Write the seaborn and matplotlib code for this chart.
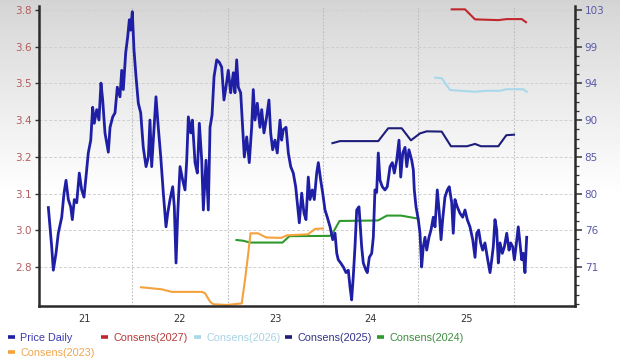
import numpy as np
import pandas as pd
import matplotlib
matplotlib.use("Agg")
import matplotlib.pyplot as plt
from matplotlib.ticker import AutoMinorLocator
import seaborn as sns

# ---------------- data (decimal years) ----------------
price_year = [2021.124, 2021.159, 2021.176, 2021.204, 2021.228, 2021.264, 2021.288, 2021.309, 2021.333, 2021.358,
              2021.375, 2021.396, 2021.421, 2021.448, 2021.473, 2021.497, 2021.518, 2021.542, 2021.568, 2021.588,
              2021.605, 2021.630, 2021.654, 2021.675, 2021.693, 2021.717, 2021.752, 2021.770, 2021.798, 2021.822,
              2021.846, 2021.874, 2021.892, 2021.909, 2021.934, 2021.955, 2021.972, 2021.986, 2022.003, 2022.021,
              2022.042, 2022.066, 2022.091, 2022.118, 2022.147, 2022.171, 2022.188, 2022.206, 2022.223, 2022.251,
              2022.275, 2022.301, 2022.328, 2022.356, 2022.374, 2022.398, 2022.426, 2022.443, 2022.461, 2022.479,
              2022.503, 2022.531, 2022.555, 2022.573, 2022.590, 2022.615, 2022.632, 2022.660, 2022.684, 2022.705,
              2022.730, 2022.747, 2022.775, 2022.799, 2022.817, 2022.838, 2022.859, 2022.887, 2022.914, 2022.939,
              2022.963, 2022.984, 2023.008, 2023.033, 2023.061, 2023.078, 2023.096, 2023.113, 2023.138, 2023.159,
              2023.176, 2023.201, 2023.228, 2023.253, 2023.270, 2023.288, 2023.312, 2023.340, 2023.358, 2023.382,
              2023.410, 2023.434, 2023.452, 2023.473, 2023.497, 2023.521, 2023.550, 2023.567, 2023.584, 2023.613,
              2023.637, 2023.662, 2023.689, 2023.714, 2023.735, 2023.752, 2023.777, 2023.801, 2023.822, 2023.846,
              2023.864, 2023.888, 2023.909, 2023.934, 2023.951, 2023.976, 2023.997, 2024.021, 2024.045, 2024.074,
              2024.102, 2024.126, 2024.144, 2024.160, 2024.185, 2024.213, 2024.241, 2024.265, 2024.283, 2024.300,
              2024.317, 2024.335, 2024.353, 2024.377, 2024.405, 2024.422, 2024.450, 2024.464, 2024.485, 2024.510,
              2024.527, 2024.544, 2024.562, 2024.579, 2024.597, 2024.621, 2024.649, 2024.673, 2024.702, 2024.726,
              2024.747, 2024.772, 2024.796, 2024.814, 2024.835, 2024.859, 2024.877, 2024.900, 2024.929, 2024.946,
              2024.956, 2024.974, 2024.998, 2025.016, 2025.033, 2025.050, 2025.068, 2025.086, 2025.110, 2025.131,
              2025.155, 2025.173, 2025.197, 2025.218, 2025.236, 2025.253, 2025.277, 2025.302, 2025.322, 2025.348,
              2025.364, 2025.382, 2025.406, 2025.434, 2025.463, 2025.487, 2025.511, 2025.539, 2025.568, 2025.592,
              2025.610, 2025.630, 2025.651, 2025.672, 2025.696, 2025.725, 2025.749, 2025.767, 2025.783, 2025.801,
              2025.819, 2025.836, 2025.854, 2025.878, 2025.899, 2025.924, 2025.948, 2025.966, 2025.987, 2026.004,
              2026.021, 2026.045, 2026.063, 2026.081, 2026.098, 2026.115, 2026.133]
price_value = [78.4, 73.5, 70.6, 72.7, 75.2, 77.2, 80.2, 81.8, 79.4, 78.5,
               76.9, 79.4, 79.0, 82.7, 80.6, 79.7, 82.2, 85.2, 86.8, 90.9,
               88.9, 90.6, 89.3, 93.9, 91.8, 87.7, 85.3, 88.4, 89.7, 90.2,
               93.4, 92.2, 95.5, 93.1, 97.7, 99.7, 101.8, 100.5, 102.8, 98.0,
               94.7, 91.4, 90.2, 85.9, 83.5, 84.7, 89.3, 83.5, 86.8, 92.2,
               88.4, 84.7, 80.2, 76.0, 77.7, 79.4, 81.0, 78.5, 71.5, 77.7,
               83.5, 81.8, 80.6, 84.3, 89.7, 87.7, 89.3, 84.0, 82.7, 88.9,
               84.3, 78.1, 84.3, 78.1, 88.4, 89.9, 94.7, 96.8, 96.5, 95.9,
               91.8, 93.4, 95.5, 92.7, 95.2, 92.7, 96.8, 93.4, 92.7, 88.4,
               84.7, 87.2, 84.0, 88.4, 93.1, 89.3, 91.4, 88.4, 90.6, 87.7,
               89.7, 91.8, 87.7, 85.6, 86.8, 85.2, 89.3, 86.8, 88.1, 88.4,
               85.2, 83.5, 82.7, 81.0, 78.5, 76.5, 80.2, 77.7, 76.9, 82.2,
               79.4, 80.6, 79.4, 82.7, 84.0, 81.8, 80.2, 78.1, 77.2, 76.0,
               74.4, 75.2, 72.7, 71.9, 71.5, 71.0, 70.3, 70.6, 68.5, 66.9,
               69.8, 73.5, 78.1, 78.5, 73.5, 71.5, 70.6, 70.3, 72.2, 72.7,
               74.7, 80.6, 80.3, 85.2, 81.8, 81.0, 80.6, 81.0, 83.5, 84.0,
               82.7, 84.3, 86.8, 82.2, 85.2, 85.9, 83.5, 85.6, 84.3, 83.1,
               80.6, 78.5, 76.9, 75.2, 71.0, 73.5, 74.7, 73.1, 74.7, 75.6,
               77.2, 76.0, 80.6, 77.7, 74.4, 76.9, 79.7, 80.6, 81.0, 79.0,
               75.2, 79.4, 78.5, 77.7, 77.2, 78.1, 76.9, 76.0, 74.4, 72.2,
               75.2, 75.6, 74.0, 73.1, 74.0, 71.9, 70.3, 71.9, 73.5, 76.9,
               75.6, 71.5, 74.0, 72.7, 73.5, 75.2, 73.1, 74.0, 73.5, 71.9,
               73.5, 76.0, 74.0, 71.9, 72.7, 70.3, 74.7]

c2027_year = [2025.348, 2025.487, 2025.592, 2025.836, 2025.923, 2026.081, 2026.126]
c2027_eps = [3.803, 3.803, 3.764, 3.761, 3.765, 3.765, 3.753]

c2026_year = [2025.173, 2025.243, 2025.330, 2025.435, 2025.592, 2025.717, 2025.853, 2025.923, 2026.097, 2026.133]
c2026_eps = [3.537, 3.535, 3.489, 3.486, 3.482, 3.486, 3.486, 3.492, 3.492, 3.482]

c2025_year = [2024.099, 2024.178, 2024.579, 2024.683, 2024.824, 2024.921, 2025.016, 2025.086, 2025.243,
              2025.340, 2025.508, 2025.592, 2025.654, 2025.836, 2025.920, 2026.000]
c2025_eps = [3.282, 3.290, 3.290, 3.340, 3.340, 3.293, 3.320, 3.328, 3.327,
             3.270, 3.270, 3.279, 3.270, 3.270, 3.313, 3.315]

c2024_year = [2023.094, 2023.166, 2023.236, 2023.576, 2023.649, 2024.073, 2024.105, 2024.173, 2024.576,
              2024.670, 2024.817, 2024.998]
c2024_eps = [2.905, 2.902, 2.895, 2.895, 2.920, 2.921, 2.934, 2.979, 2.981, 3.000, 3.000, 2.988]

c2023_year = [2022.094, 2022.311, 2022.416, 2022.730, 2022.764, 2022.817, 2022.851, 2022.992, 2023.149,
              2023.183, 2023.218, 2023.241, 2023.319, 2023.403, 2023.560, 2023.623, 2023.843, 2023.916, 2023.997]
c2023_eps = [2.721, 2.713, 2.703, 2.703, 2.698, 2.665, 2.655, 2.652, 2.658,
             2.749, 2.855, 2.931, 2.931, 2.915, 2.913, 2.923, 2.927, 2.948, 2.950]

year_labels = ["21", "22", "23", "24", "25"]
year_label_pos = [2021.5, 2022.5, 2023.5, 2024.5, 2025.5]
year_bounds = [2022, 2023, 2024, 2025, 2026]
left_labels = ["2.8", "3.0", "3.1", "3.2", "3.4", "3.5", "3.6", "3.8"]
right_labels = ["71", "76", "80", "85", "90", "94", "99", "103"]

series = [
    ("Price Daily", price_year, price_value, "#1f1fa6", "#3a3ab4", "right"),
    ("Consens(2027)", c2027_year, c2027_eps, "#c0272d", "#b83a3a", "left"),
    ("Consens(2026)", c2026_year, c2026_eps, "#a8d8ea", "#a8d4e4", "left"),
    ("Consens(2025)", c2025_year, c2025_eps, "#1e1e7a", "#33338a", "left"),
    ("Consens(2024)", c2024_year, c2024_eps, "#2e9a2e", "#3d8f3d", "left"),
    ("Consens(2023)", c2023_year, c2023_eps, "#f4a23e", "#f0a650", "left"),
]

# ---------------- figure ----------------
W, H = 620, 359
fig = plt.figure(figsize=(W / 100, H / 100), dpi=100)
fig.patch.set_facecolor("white")

# background gradient (gray top fading to white)
bg = fig.add_axes([0, 0, 1, 1], zorder=-5)
rows = np.linspace(0, 1, H)
shade = 0.83 + 0.17 * np.clip(rows / 0.55, 0, 1) ** 0.9
grad = np.tile(shade[:, None], (1, 4))
bg.imshow(grad, aspect="auto", cmap="gray", vmin=0, vmax=1, extent=[0, 1, 0, 1], origin="upper")
bg.axis("off")

L, R, B, T = 39, 575, 306, 6
ax = fig.add_axes([L / W, 1 - B / H, (R - L) / W, (B - T) / H])
ax.set_zorder(1)
ax.patch.set_visible(False)
ax2 = ax.twinx()
ax2.set_zorder(2)
ax2.patch.set_visible(False)

for name, xs, ys, col, tcol, side in series:
    df = pd.DataFrame({"year": xs, "value": ys})
    target = ax2 if side == "right" else ax
    sns.lineplot(data=df, x="year", y="value", ax=target, color=col,
                 lw=2.0 if side == "right" else 1.5, estimator=None, label=name,
                 legend=False, solid_joinstyle="round")

ax.set_xlim(2021.026, 2026.639)
ax.set_ylim(2.648, 3.816)
ax2.set_ylim(66.14, 103.51)

left_ticks = np.linspace(2.8, 3.8, 8)
right_ticks = np.linspace(71, 103, 8)
ax.set_yticks(left_ticks)
ax.set_yticklabels(left_labels)
ax2.set_yticks(right_ticks)
ax2.set_yticklabels(right_labels)
ax2.yaxis.set_minor_locator(AutoMinorLocator(4))

ax.set_xticks(year_label_pos)
ax.set_xticklabels(year_labels)
ax.set_xticks(year_bounds, minor=True)
ax.set_xlabel("")
ax.set_ylabel("")
ax2.set_ylabel("")

ax.grid(axis="y", which="major", ls=(0, (3, 2)), color="#cfcfcf", lw=0.7)
ax.grid(axis="x", which="minor", ls=(0, (1.5, 1.5)), color="#bdbdbd", lw=0.8)
ax.grid(axis="x", which="major", visible=False)
ax.set_axisbelow(True)

for s in ["top", "right"]:
    ax.spines[s].set_visible(False)
for s in ["top", "left", "bottom"]:
    ax2.spines[s].set_visible(False)
for sp in [ax.spines["left"], ax.spines["bottom"], ax2.spines["right"]]:
    sp.set_linewidth(1.8)
    sp.set_color("#2a2a2a")

tick_font = "DejaVu Sans"
ax.tick_params(axis="y", length=3, width=1, color="#333333", labelcolor="#b45c5c",
               labelsize=7.5, pad=2)
ax.tick_params(axis="x", which="both", length=0, labelcolor="#333333", labelsize=7, pad=6)
ax2.tick_params(axis="y", which="major", length=5, width=1.1, color="#333333",
                labelcolor="#5a5aa8", labelsize=7.5, pad=2)
ax2.tick_params(axis="y", which="minor", length=3, width=0.9, color="#333333")
for lab in ax.get_yticklabels() + ax2.get_yticklabels() + ax.get_xticklabels():
    lab.set_fontfamily(tick_font)

# ---------------- legend ----------------
handles = {l.get_label(): l for l in ax.get_lines() + ax2.get_lines()}
legend_pos = [(8, 338), (101, 338), (194, 338), (285, 338), (377, 338), (8, 353)]
for (name, xs, ys, col, tcol, side), (px, py) in zip(series, legend_pos):
    leg = fig.legend([handles[name]], [name], loc="center left",
                     bbox_to_anchor=(px / W, 1 - py / H), frameon=False,
                     borderpad=0, borderaxespad=0, handlelength=0.6,
                     handletextpad=0.55, prop={"family": "Liberation Sans", "size": 7.8})
    for t in leg.get_texts():
        t.set_color(tcol)
    for h in leg.legend_handles:
        h.set_linewidth(2.6)
        h.set_solid_capstyle("butt")

fig.savefig("out.png", dpi=100)
